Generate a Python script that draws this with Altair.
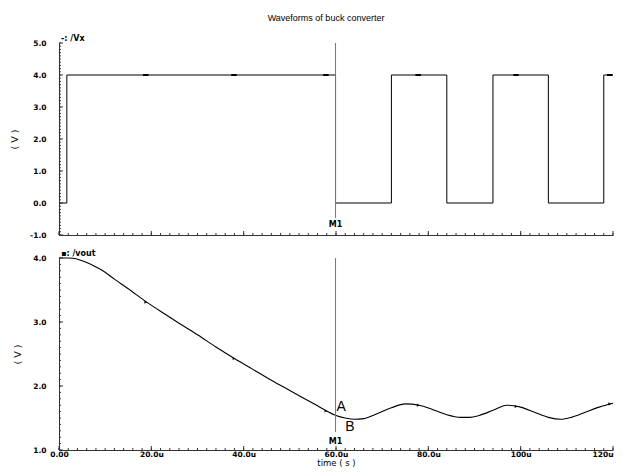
import altair as alt
import pandas as pd

# ---------------- data ----------------
chart_title = "Waveforms of buck converter"
top_trace_label = "-: /Vx"
bottom_trace_label = "\u25aa: /vout"

# switching node voltage Vx (step waveform, value held until next time)
vx_t = [0.0, 1.7, 59.9, 72.0, 84.0, 94.0, 106.0, 118.0, 120.0]
vx_v = [0.0, 4.0, 0.0, 4.0, 0.0, 4.0, 0.0, 4.0, 4.0]

# output voltage vout
vout_t = [0, 2, 3, 4.5, 6, 8, 9.5, 12, 15, 19, 23, 26, 30, 34, 38, 42, 46, 50,
          54, 57, 60, 62, 64, 66, 69, 72, 75, 78, 81, 84, 87, 89, 91, 94, 97,
          100, 103, 106, 108.7, 111, 114, 117, 120]
vout_v = [4.00, 4.00, 3.995, 3.97, 3.93, 3.86, 3.80, 3.67, 3.52, 3.31, 3.12,
          2.98, 2.80, 2.61, 2.43, 2.26, 2.09, 1.93, 1.77, 1.65, 1.54, 1.50,
          1.48, 1.49, 1.57, 1.66, 1.72, 1.70, 1.63, 1.55, 1.51, 1.51, 1.54,
          1.62, 1.70, 1.67, 1.59, 1.51, 1.48, 1.51, 1.59, 1.67, 1.73]

# trace identification markers
marker_t = [18.8, 37.9, 57.8, 77.8, 99.0, 119.3]
vx_marker_v = [4.0, 4.0, 4.0, 4.0, 4.0, 4.0]
vout_marker_v = [3.31, 2.43, 1.61, 1.70, 1.68, 1.72]

# cursor M1
cursor_t = 59.9
cursor_top_v = [5.0, -0.47]     # top, bottom of the cursor in the Vx panel
cursor_bot_v = [4.0, 1.28]      # top, bottom of the cursor in the vout panel
m1_top_v = -0.70
m1_bot_v = 1.12
label_a = {"t": 61.1, "v": 1.67, "txt": "A"}
label_b = {"t": 63.0, "v": 1.36, "txt": "B"}

# axes
x_domain = [0, 120]
x_major = [0, 20, 40, 60, 80, 100, 120]
x_major_labels = ["0.00", "20.0u", "40.0u", "60.0u", "80.0u", "100u", "120u"]
x_minor = list(range(0, 121, 2))
top_y_domain = [-1, 5]
top_y_major = [-1, 0, 1, 2, 3, 4, 5]
top_y_minor = [round(-1 + 0.1 * i, 1) for i in range(61)]
bot_y_domain = [1, 4]
bot_y_major = [1, 2, 3, 4]
bot_y_minor = [round(1 + 0.1 * i, 1) for i in range(31)]

W, H = 554, 192
INK = "#000000"
AXC = "#333333"

label_expr = " : ".join(
    f"datum.value == {v} ? '{l}'" for v, l in zip(x_major, x_major_labels)
) + " : ''"
y_label_expr = "(datum.value < 0 ? '-' : '') + format(abs(datum.value), '.1f')"


def xenc(show_labels):
    if show_labels:
        ax = alt.Axis(values=x_major, labelExpr=label_expr, ticks=False,
                      tickSize=0, grid=False, title="time ( s )",
                      labelPadding=0, titlePadding=1, labelFlush=False,
                      titleFontSize=8.5,
                      labelAlign={"condition": {"test": f"datum.value == {x_major[-1]}",
                                                "value": "right"},
                                  "value": "center"})
    else:
        ax = alt.Axis(values=x_major, labels=False, ticks=False, tickSize=0,
                      grid=False, title=None)
    return alt.X("t:Q", scale=alt.Scale(domain=x_domain, nice=False, zero=False),
                 axis=ax)


def yenc(domain, values):
    ax = alt.Axis(values=values, labelExpr=y_label_expr, ticks=False,
                  tickSize=0, grid=False, title="( V )", labelPadding=13,
                  titlePadding=10)
    return alt.Y("v:Q", scale=alt.Scale(domain=domain, nice=False, zero=False),
                 axis=ax)


def tick_layers(show_x, domain, y_minor, y_major):
    xm = pd.DataFrame({"t": x_minor})
    xM = pd.DataFrame({"t": x_major})
    ym = pd.DataFrame({"v": y_minor})
    yM = pd.DataFrame({"v": y_major})
    return [
        alt.Chart(xm).mark_rule(color=AXC, strokeWidth=1).encode(
            x=xenc(show_x), y=alt.value(H), y2=alt.value(H - 2)),
        alt.Chart(xM).mark_rule(color=AXC, strokeWidth=1).encode(
            x=xenc(show_x), y=alt.value(H), y2=alt.value(H - 4)),
        alt.Chart(ym).mark_rule(color=AXC, strokeWidth=1).encode(
            y=yenc(domain, y_major), x=alt.value(0), x2=alt.value(2)),
        alt.Chart(yM).mark_rule(color=AXC, strokeWidth=1).encode(
            y=yenc(domain, y_major), x=alt.value(0), x2=alt.value(4)),
    ]


# ---------------- top panel: Vx ----------------
TX = lambda: xenc(False)
TY = lambda: yenc(top_y_domain, top_y_major)

vx_df = pd.DataFrame({"t": vx_t, "v": vx_v})
vx_line = alt.Chart(vx_df).mark_line(
    interpolate="step-after", color=INK, strokeWidth=1
).encode(x=TX(), y=TY())

vx_marks = alt.Chart(pd.DataFrame({"t": marker_t, "v": vx_marker_v})).mark_point(
    shape="stroke", size=30, color=INK, strokeWidth=2, opacity=1
).encode(x=TX(), y=TY())

cur_top = alt.Chart(pd.DataFrame({"t": [cursor_t], "v": [cursor_top_v[0]],
                                  "v2": [cursor_top_v[1]]})).mark_rule(
    color="#777777", strokeWidth=1
).encode(x=TX(), y=TY(), y2="v2:Q")

m1_top = alt.Chart(pd.DataFrame({"t": [cursor_t], "v": [m1_top_v], "txt": ["M1"]})).mark_text(
    font="DejaVu Sans", fontSize=8, fontWeight="bold", color=INK
).encode(x=TX(), y=TY(), text="txt:N")

top = alt.layer(
    vx_line, vx_marks, cur_top, m1_top,
    *tick_layers(False, top_y_domain, top_y_minor, top_y_major)
).properties(
    width=W, height=H,
    title=alt.TitleParams(top_trace_label, anchor="start", frame="group",
                          font="DejaVu Sans", fontSize=8, fontWeight="bold",
                          offset=-4, color=INK, dx=2),
)

# ---------------- bottom panel: vout ----------------
BX = lambda: xenc(True)
BY = lambda: yenc(bot_y_domain, bot_y_major)

vout_df = pd.DataFrame({"t": vout_t, "v": vout_v})
vout_line = alt.Chart(vout_df).mark_line(
    interpolate="monotone", color=INK, strokeWidth=1.1
).encode(x=BX(), y=BY())

vout_marks = alt.Chart(pd.DataFrame({"t": marker_t, "v": vout_marker_v})).mark_point(
    shape="triangle-right", size=10, color=INK, filled=True, opacity=1
).encode(x=BX(), y=BY())

cur_bot = alt.Chart(pd.DataFrame({"t": [cursor_t], "v": [cursor_bot_v[0]],
                                  "v2": [cursor_bot_v[1]]})).mark_rule(
    color="#777777", strokeWidth=1
).encode(x=BX(), y=BY(), y2="v2:Q")

m1_bot = alt.Chart(pd.DataFrame({"t": [cursor_t], "v": [m1_bot_v], "txt": ["M1"]})).mark_text(
    font="DejaVu Sans", fontSize=8, fontWeight="bold", color=INK
).encode(x=BX(), y=BY(), text="txt:N")

ab = alt.Chart(pd.DataFrame([label_a, label_b])).mark_text(
    font="Liberation Sans", fontSize=14, color=INK
).encode(x=BX(), y=BY(), text="txt:N")

bottom = alt.layer(
    vout_line, vout_marks, cur_bot, m1_bot, ab,
    *tick_layers(True, bot_y_domain, bot_y_minor, bot_y_major)
).properties(
    width=W, height=H,
    title=alt.TitleParams(bottom_trace_label, anchor="start", frame="group",
                          font="DejaVu Sans", fontSize=8, fontWeight="bold",
                          offset=-4, color=INK, dx=2),
)

chart = alt.vconcat(top, bottom, spacing=23, bounds="flush").properties(
    title=alt.TitleParams(chart_title, font="Liberation Sans", fontSize=9,
                          fontWeight="normal", color=INK, anchor="middle",
                          offset=12, dx=13),
    padding={"left": 1, "top": 6, "right": 0, "bottom": 0},
).configure_view(stroke=None).configure_axis(
    domainColor=AXC, domainWidth=1,
    labelFont="DejaVu Sans", labelFontSize=7.5, labelFontWeight="bold",
    labelColor=INK, titleFont="DejaVu Sans", titleFontSize=9.5,
    titleFontWeight="normal", titleColor=INK,
)

chart.save("out.html", embed_options={"renderer": "svg", "actions": False})
